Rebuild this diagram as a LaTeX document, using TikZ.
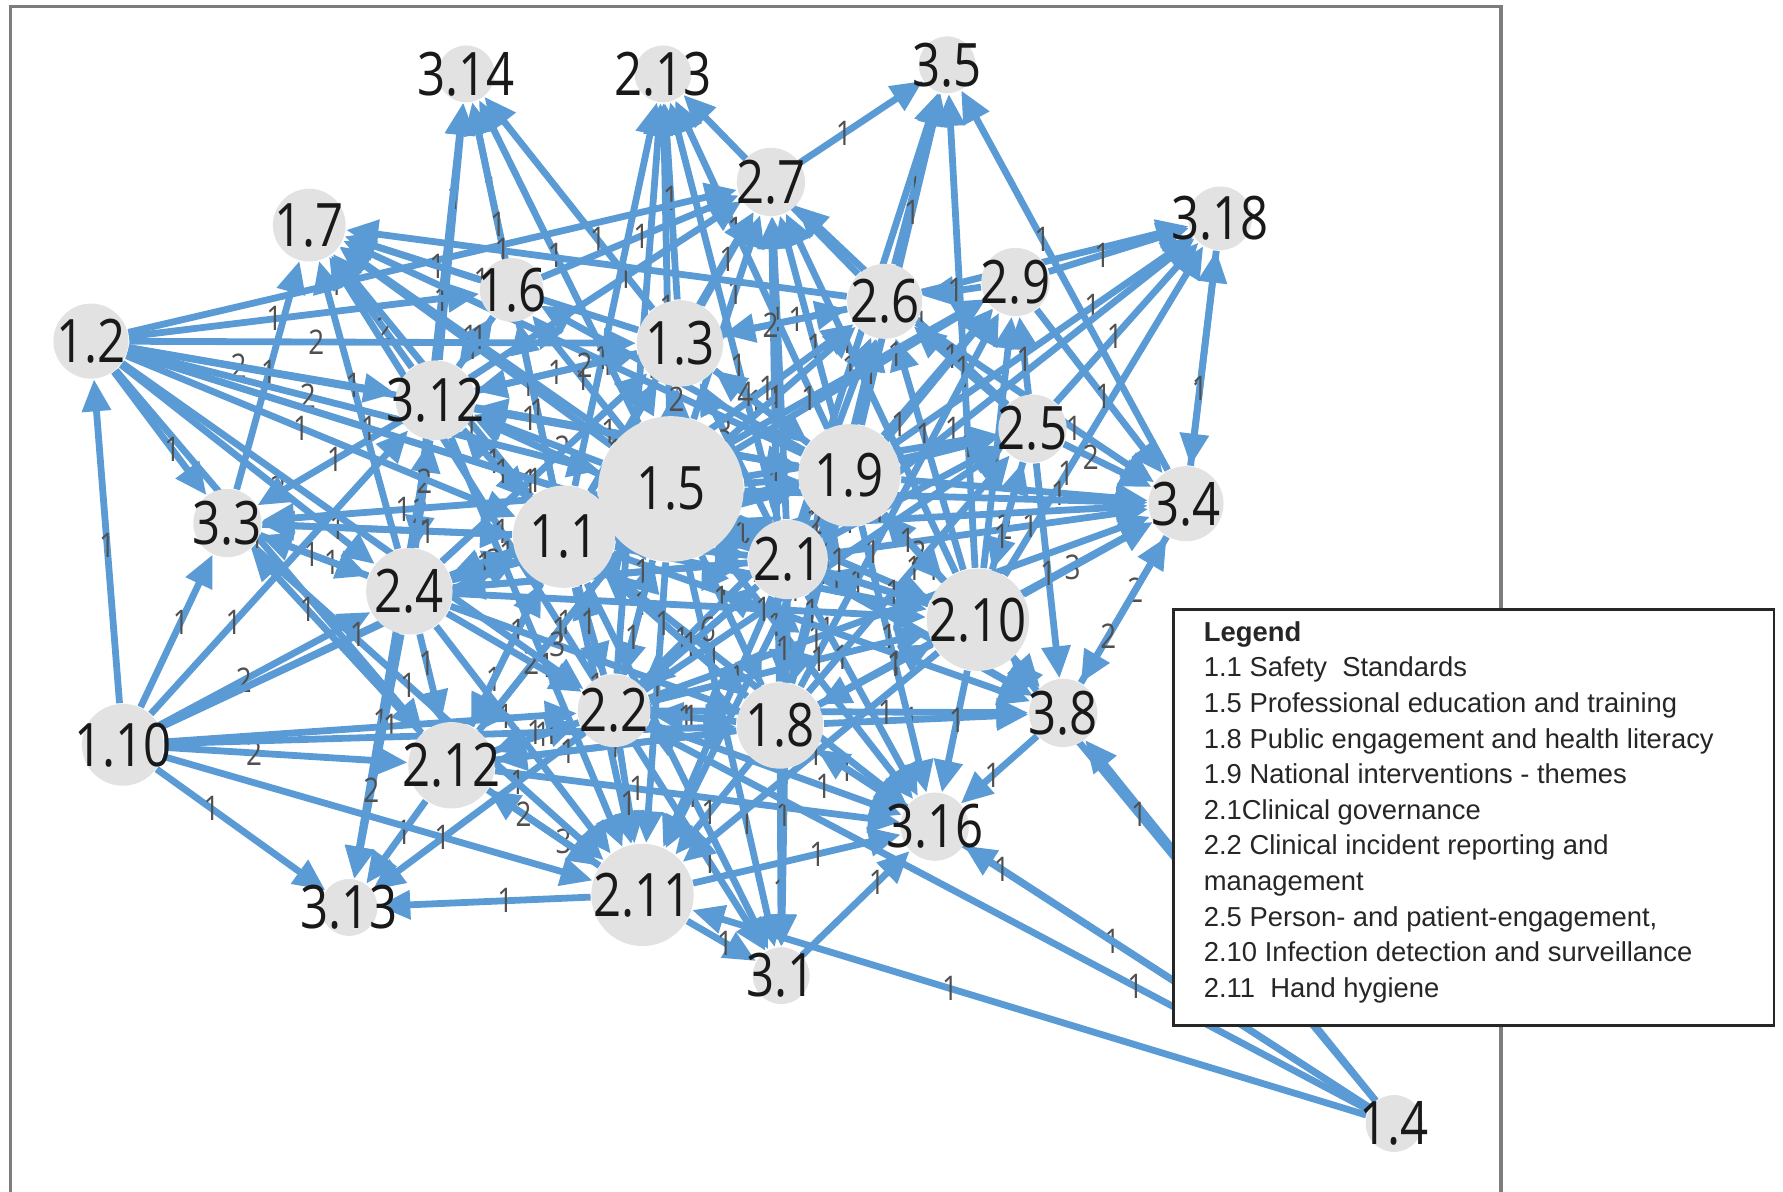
\documentclass[tikz,border=0pt]{standalone}
\usepackage{fontspec}
\setmainfont{Liberation Sans}
\newfontfamily\vfont[FakeStretch=0.82]{Open Sans}
\usetikzlibrary{arrows.meta,backgrounds}

\definecolor{edgeblue}{RGB}{91,155,213}
\definecolor{vgray}{RGB}{226,226,226}
\definecolor{wgray}{RGB}{80,80,80}
\definecolor{framegray}{RGB}{125,125,125}

\tikzset{
	vert/.style={circle,fill=vgray,inner sep=0pt},
	vtext/.style={font=\vfont\fontsize{15}{15}\selectfont,text=black!90,inner sep=0pt},
	link/.style={draw=edgeblue,line width=1.7pt,-{Triangle[length=8pt,width=7pt]}},
	wlabel/.style={font=\vfont\fontsize{8.5}{8.5}\selectfont,text=wgray,inner sep=0.5pt},
	legbox/.style={draw=black!85,line width=0.6pt,fill=white,minimum width=5.28cm,minimum height=3.66cm,inner sep=0pt},
	legtext/.style={font=\fontsize{6.85}{8}\selectfont,anchor=base west,inner sep=0pt,text=black!85}
}

\begin{document}
\begin{tikzpicture}
		\pgfmathsetseed{17}
		\useasboundingbox (0,0) rectangle (15.68,10.48);
		\foreach \n/\x/\y/\d/\t in {n314/4.10/9.83/0.50/3.14, n213/5.83/9.83/0.50/2.13,
			n35/8.33/9.91/0.50/3.5, n27/6.78/8.88/0.60/2.7, n17/2.72/8.50/0.64/1.7,
			n318/10.73/8.56/0.56/3.18, n16/4.50/7.93/0.56/1.6, n26/7.78/7.83/0.66/2.6,
			n29/8.93/8.00/0.60/2.9, n12/0.80/7.48/0.66/1.2, n13/5.98/7.46/0.76/1.3,
			n312/3.83/6.96/0.70/3.12, n25/9.08/6.71/0.60/2.5, n19/7.47/6.30/0.90/1.9,
			n15/5.90/6.18/1.28/1.5, n34/10.43/6.05/0.66/3.4, n33/2.00/5.88/0.60/3.3,
			n11/4.96/5.76/0.90/1.1, n21/6.93/5.56/0.70/2.1, n24/3.60/5.28/0.76/2.4,
			n210/8.60/5.03/0.90/2.10, n38/9.35/4.21/0.60/3.8, n22/5.40/4.23/0.64/2.2,
			n18/6.86/4.10/0.76/1.8, n110/1.08/3.93/0.72/1.10, n212/3.97/3.75/0.76/2.12,
			n316/8.22/3.21/0.60/3.16, n211/5.65/2.61/0.90/2.11, n313/3.07/2.50/0.50/3.13,
			n31/6.87/1.90/0.50/3.1, n14/12.26/0.60/0.50/1.4}
		{
			\node[vert,minimum size=\d cm] (\n) at (\x,\y) {};
			\node[vtext] (\n-t) at (\n) {\t};
		}
		\begin{scope}[on background layer]
		\draw[framegray,line width=0.8pt] (0.09,0) -- (0.09,10.42) -- (13.20,10.42) -- (13.20,0);
		\foreach \s/\e/\w in {n312/n314/1, n16/n314/1, n24/n314/1, n11/n314/1, n15/n314/1, n13/n314/1,
			n15/n213/1, n11/n213/1, n13/n213/1, n22/n213/1, n21/n213/1, n19/n213/1, n26/n213/1,
			n26/n35/1, n19/n35/1, n21/n35/1, n210/n35/1, n27/n35/1, n34/n35/1,
			n12/n27/1, n312/n27/1, n16/n27/1, n11/n27/1, n15/n27/1, n13/n27/1, n21/n27/1,
			n19/n27/1, n210/n27/1, n25/n27/1, n18/n27/1,
			n312/n17/2, n16/n17/1, n11/n17/1, n15/n17/1, n24/n17/1, n13/n17/1, n19/n17/1,
			n21/n17/1, n33/n17/1, n26/n17/1, n22/n17/1,
			n26/n318/1, n29/n318/1, n25/n318/1, n19/n318/1, n210/n318/1, n34/n318/1, n21/n318/1,
			n318/n34/1, n29/n34/1, n25/n34/2, n19/n34/1, n21/n34/1, n210/n34/3, n15/n34/1,
			n11/n34/1, n18/n34/1, n26/n34/1, n38/n34/2, n22/n34/1,
			n210/n38/2, n19/n38/1, n21/n38/1, n34/n38/2, n18/n38/1, n15/n38/1, n11/n38/1,
			n25/n38/1, n22/n38/1, n14/n38/1,
			n210/n316/1, n18/n316/1, n21/n316/1, n19/n316/1, n22/n316/1, n38/n316/1, n31/n316/1,
			n211/n316/1, n11/n316/1, n15/n316/1, n14/n316/1, n212/n316/1,
			n211/n31/1, n18/n31/1, n22/n31/1, n21/n31/1, n11/n31/1, n15/n31/1,
			n211/n313/1, n212/n313/1, n110/n313/1, n312/n313/1, n24/n313/2, n22/n313/1,
			n110/n211/1, n212/n211/3, n24/n211/1, n11/n211/1, n15/n211/1, n22/n211/1, n18/n211/1,
			n21/n211/1, n19/n211/1, n14/n211/1, n33/n211/1, n312/n211/1, n210/n211/1,
			n110/n212/2, n211/n212/2, n11/n212/1, n15/n212/1, n22/n212/1, n24/n212/1, n18/n212/1, n12/n212/1,
			n12/n24/2, n110/n24/2, n33/n24/1, n312/n24/2, n11/n24/2, n15/n24/1, n21/n24/1, n19/n24/1,
			n12/n33/1, n110/n33/1, n24/n33/1, n312/n33/1, n11/n33/1, n15/n33/1, n212/n33/1,
			n12/n312/2, n110/n312/1, n11/n312/1, n15/n312/2, n16/n312/1, n13/n312/1, n24/n312/2,
			n19/n312/1, n21/n312/1,
			n110/n12/1,
			n12/n16/1, n15/n16/1, n11/n16/1, n19/n16/1, n312/n16/1,
			n12/n13/2, n15/n13/2, n11/n13/1, n19/n13/1, n21/n13/3, n24/n13/1, n312/n13/2, n26/n13/1,
			n29/n26/1, n25/n26/1, n19/n26/1, n15/n26/1, n11/n26/1, n21/n26/1, n210/n26/1, n13/n26/2, n18/n26/1,
			n210/n29/1, n19/n29/1, n21/n29/1, n18/n29/1, n15/n29/1, n25/n29/1, n11/n29/1,
			n21/n25/1, n19/n25/1, n210/n25/2, n18/n25/1, n15/n25/1, n11/n25/1, n22/n25/1,
			n15/n19/1, n11/n19/1, n21/n19/1, n22/n19/1, n18/n19/1, n24/n19/1, n312/n19/1,
			n210/n19/2, n12/n19/1, n13/n19/4,
			n11/n15/1, n21/n15/5, n22/n15/1, n18/n15/1, n24/n15/2, n212/n15/1, n110/n15/1, n12/n15/2, n210/n15/1,
			n22/n11/1, n21/n11/1, n18/n11/1, n24/n11/1, n312/n11/1, n212/n11/1, n110/n11/1, n12/n11/1, n33/n11/1,
			n15/n21/1, n11/n21/1, n22/n21/6, n18/n21/1, n210/n21/1, n19/n21/2, n12/n21/1, n24/n21/1,
			n15/n22/1, n11/n22/1, n21/n22/1, n18/n22/1, n24/n22/2, n212/n22/1, n110/n22/1, n12/n22/1, n14/n22/1,
			n15/n18/1, n11/n18/1, n21/n18/1, n22/n18/1, n210/n18/1, n19/n18/1, n110/n18/1, n24/n18/3,
			n212/n18/1, n14/n18/1,
			n15/n210/1, n11/n210/1, n21/n210/1, n18/n210/1, n19/n210/1, n22/n210/1, n25/n210/1,
			n14/n210/1, n24/n210/1, n12/n210/1}
		{
			\pgfmathsetmacro\p{0.3+0.4*rnd}
			\draw[link] (\s) -- node[wlabel,pos=\p] {\w} (\e);
		}
		\end{scope}
		\node[legbox] (legend) at (12.96,3.29) {};
		\foreach \txt [count=\i from 0] in {\textbf{Legend}, 1.1 Safety~ Standards,
			1.5 Professional education and training, 1.8 Public engagement and health literacy,
			1.9 National interventions - themes, 2.1Clinical governance,
			2.2 Clinical incident reporting and, management,
			{2.5 Person- and patient-engagement,}, 2.10 Infection detection and surveillance,
			2.11~ Hand hygiene}
			\node[legtext] (leg\i) at (10.58,{4.84-0.313*\i}) {\txt};
	\end{tikzpicture}
\end{document}
